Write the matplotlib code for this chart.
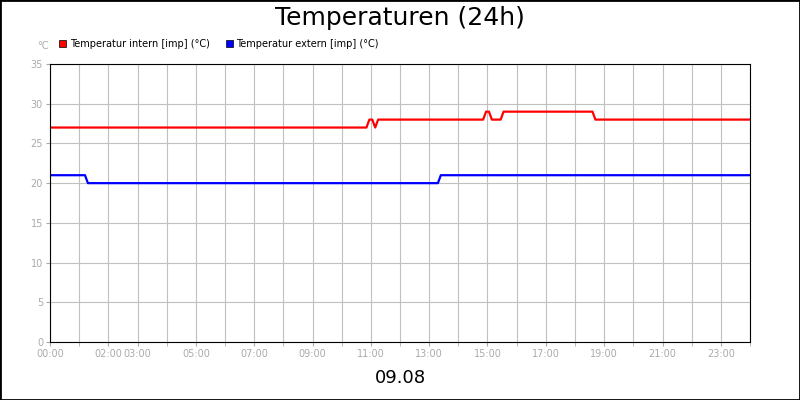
import matplotlib
matplotlib.use("Agg")
import matplotlib.pyplot as plt
from matplotlib.patches import Rectangle

hours_intern = [0, 10.85, 10.95, 11.05, 11.15, 11.25, 14.85, 14.95, 15.05, 15.15, 15.45, 15.55, 18.6, 18.7, 24]
temp_intern = [27, 27, 28, 28, 27, 28, 28, 29, 29, 28, 28, 29, 29, 28, 28]
hours_extern = [0, 1.2, 1.3, 13.3, 13.4, 24]
temp_extern = [21, 21, 20, 20, 21, 21]
xtick_hours = [0, 2, 3, 5, 7, 9, 11, 13, 15, 17, 19, 21, 23]
xtick_labels = ["00:00", "02:00", "03:00", "05:00", "07:00", "09:00", "11:00", "13:00", "15:00", "17:00", "19:00", "21:00", "23:00"]
yticks = [0, 5, 10, 15, 20, 25, 30, 35]

fig = plt.figure(figsize=(8, 4), dpi=100)
fig.patches.append(Rectangle((0, 0), 1, 1, transform=fig.transFigure, fill=False, edgecolor="black", linewidth=2))
ax = fig.add_axes([0.0625, 0.145, 0.875, 0.695])
ax.plot(hours_intern, temp_intern, color="#ff0000", lw=1.6)
ax.plot(hours_extern, temp_extern, color="#0000ff", lw=1.6)
ax.set_xlim(0, 24)
ax.set_ylim(0, 35)
ax.set_xticks(range(0, 25), minor=True)
ax.set_xticks(xtick_hours)
ax.set_xticklabels(xtick_labels)
ax.set_yticks(yticks)
ax.grid(True, which="both", axis="x", color="#c0c0c0", lw=0.8)
ax.grid(True, which="major", axis="y", color="#c0c0c0", lw=0.8)
ax.tick_params(which="both", colors="#aaaaaa", labelsize=7, length=3, pad=2)
for s in ax.spines.values():
    s.set_color("black")
ax.set_axisbelow(True)
fig.text(0.5, 0.955, "Temperaturen (24h)", ha="center", va="center", fontsize=18)
fig.text(0.5, 0.055, "09.08", ha="center", va="center", fontsize=13)
fig.text(0.046, 0.885, "°C", ha="left", va="center", fontsize=7, color="#aaaaaa")
fig.patches.append(Rectangle((0.074, 0.882), 0.009, 0.018, transform=fig.transFigure, facecolor="#ff0000", edgecolor="black", lw=0.5))
fig.text(0.087, 0.891, "Temperatur intern [imp] (°C)", fontsize=7, va="center")
fig.patches.append(Rectangle((0.282, 0.882), 0.009, 0.018, transform=fig.transFigure, facecolor="#0000ff", edgecolor="black", lw=0.5))
fig.text(0.295, 0.891, "Temperatur extern [imp] (°C)", fontsize=7, va="center")
fig.savefig("out.png", dpi=100)
